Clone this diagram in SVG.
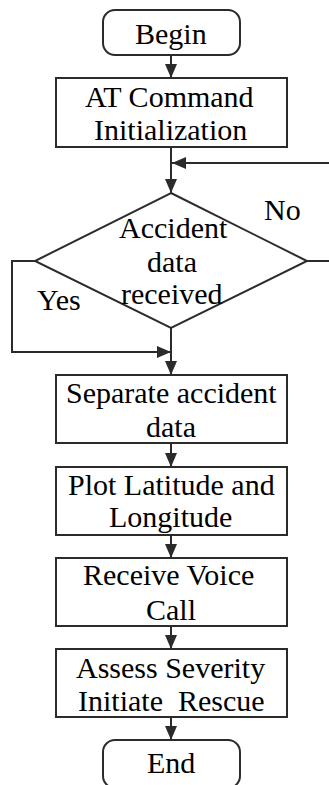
<svg xmlns="http://www.w3.org/2000/svg" width="329" height="785" viewBox="0 0 329 785">
<defs>
<marker id="ah" viewBox="0 0 14 12" refX="14" refY="6" markerWidth="14" markerHeight="12" markerUnits="userSpaceOnUse" orient="auto">
<path d="M0,0 L14,6 L0,12 Z" fill="#2b2b2b"/>
</marker>
</defs>
<rect width="329" height="785" fill="#fff"/>
<g id="connectors" fill="none" stroke="#2b2b2b" stroke-width="2">
<path d="M171,55 V78" marker-end="url(#ah)"/>
<path d="M171,147 V193" marker-end="url(#ah)"/>
<path d="M307,261 H331 V163 H172" marker-end="url(#ah)"/>
<path d="M35,261 H12 V352 H171" marker-end="url(#ah)"/>
<path d="M171,328 V375" marker-end="url(#ah)"/>
<path d="M171,443 V467" marker-end="url(#ah)"/>
<path d="M171,535 V558" marker-end="url(#ah)"/>
<path d="M171,626 V649" marker-end="url(#ah)"/>
<path d="M171,717 V740" marker-end="url(#ah)"/>
</g>
<g id="begin">
<rect x="103" y="10" width="137" height="45" rx="12" fill="#fff" stroke="#2b2b2b" stroke-width="2"/>
<text x="135" y="44" font-size="30" font-family="Liberation Serif">Begin</text>
</g>
<g id="init">
<rect x="56" y="78" width="231" height="69" fill="#fff" stroke="#2b2b2b" stroke-width="2"/>
<text x="85" y="107" font-size="30" font-family="Liberation Serif">AT Command</text>
<text x="94" y="140" font-size="30" font-family="Liberation Serif">Initialization</text>
</g>
<g id="decision">
<polygon points="171,193 307,261 171,328 35,261" fill="#fff" stroke="#2b2b2b" stroke-width="2"/>
<text x="119" y="238" font-size="30" font-family="Liberation Serif">Accident</text>
<text x="147" y="272" font-size="30" font-family="Liberation Serif">data</text>
<text x="121" y="304" font-size="30" font-family="Liberation Serif">received</text>
</g>
<g id="labels">
<text x="264" y="220" font-size="30" font-family="Liberation Serif">No</text>
<text x="37" y="310" font-size="30" font-family="Liberation Serif">Yes</text>
</g>
<g id="separate">
<rect x="56" y="375" width="231" height="68" fill="#fff" stroke="#2b2b2b" stroke-width="2"/>
<text x="66" y="403" font-size="30" font-family="Liberation Serif">Separate accident</text>
<text x="146" y="437" font-size="30" font-family="Liberation Serif">data</text>
</g>
<g id="plot">
<rect x="56" y="467" width="231" height="68" fill="#fff" stroke="#2b2b2b" stroke-width="2"/>
<text x="68" y="495" font-size="30" font-family="Liberation Serif">Plot Latitude and</text>
<text x="109" y="527" font-size="30" font-family="Liberation Serif">Longitude</text>
</g>
<g id="voice">
<rect x="56" y="558" width="231" height="68" fill="#fff" stroke="#2b2b2b" stroke-width="2"/>
<text x="83" y="585" font-size="30" font-family="Liberation Serif">Receive Voice</text>
<text x="146" y="620" font-size="30" font-family="Liberation Serif">Call</text>
</g>
<g id="assess">
<rect x="56" y="649" width="231" height="68" fill="#fff" stroke="#2b2b2b" stroke-width="2"/>
<text x="76" y="678" font-size="30" font-family="Liberation Serif">Assess Severity</text>
<text x="78" y="711" font-size="30" font-family="Liberation Serif" xml:space="preserve">Initiate  Rescue</text>
</g>
<g id="end">
<rect x="103" y="740" width="137" height="48" rx="12" fill="#fff" stroke="#2b2b2b" stroke-width="2"/>
<text x="147" y="773" font-size="30" font-family="Liberation Serif">End</text>
</g>
</svg>
